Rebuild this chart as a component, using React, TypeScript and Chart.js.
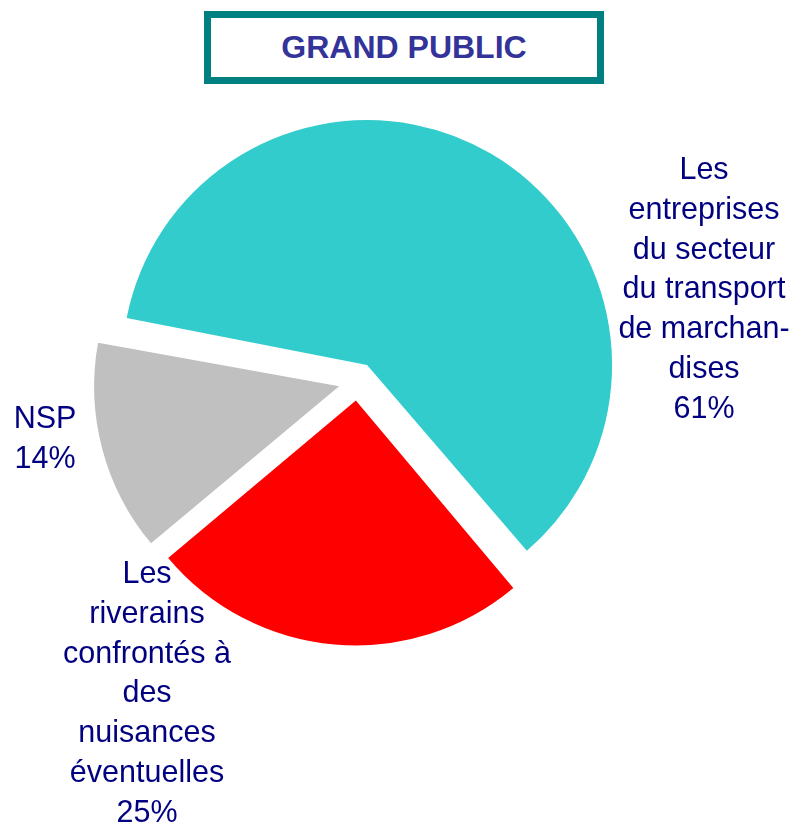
import React, { useEffect, useRef } from "react";
import { Chart, registerables } from "chart.js";

Chart.register(...registerables);

const categories = [
  "Les entreprises du secteur du transport de marchandises",
  "Les riverains confrontés à des nuisances éventuelles",
  "NSP",
];
const values = [61, 25, 14];
const colors = ["#33CCCC", "#FF0000", "#C0C0C0"];
const labelLines = [
  ["Les", "entreprises", "du secteur", "du transport", "de marchan-", "dises", "61%"],
  ["Les", "riverains", "confrontés à", "des", "nuisances", "éventuelles", "25%"],
  ["NSP", "14%"],
];
const title = "GRAND PUBLIC";

const RADIUS = 245;
const OFFSET = 76;
const labelPos = [
  { x: 704, y: 179 },
  { x: 147, y: 583 },
  { x: 45, y: 428 },
];

const fixRadiusPlugin = {
  id: "fixRadius",
  afterDatasetsUpdate(chart: any) {
    const meta = chart.getDatasetMeta(0);
    meta.data.forEach((arc: any) => {
      const c = arc.circumference;
      const fix = 1 - Math.sin(Math.min(Math.PI, c || 0));
      arc.outerRadius = RADIUS - (OFFSET / 4) * fix;
    });
  },
};

const labelsPlugin = {
  id: "sliceLabels",
  afterDatasetsDraw(chart: any) {
    const ctx = chart.ctx;
    ctx.save();
    ctx.fillStyle = "#000080";
    ctx.font = "30.5px 'Liberation Sans', Arial, sans-serif";
    ctx.textAlign = "center";
    ctx.textBaseline = "alphabetic";
    labelLines.forEach((lines, i) => {
      const p = labelPos[i];
      lines.forEach((t, j) => ctx.fillText(t, p.x, p.y + j * 39.8));
    });
    ctx.restore();
  },
};

export default function App() {
  const ref = useRef<HTMLCanvasElement | null>(null);
  useEffect(() => {
    if (!ref.current) return;
    const chart = new Chart(ref.current, {
      type: "pie",
      data: {
        labels: categories,
        datasets: [
          {
            data: values,
            backgroundColor: colors,
            borderWidth: 0,
            offset: OFFSET,
            hoverOffset: 0,
          },
        ],
      },
      options: {
        responsive: false,
        animation: false,
        events: [],
        rotation: 280.4,
        radius: RADIUS,
        layout: { padding: { left: 0, right: 81, top: 0, bottom: 62 } },
        plugins: {
          legend: { display: false },
          tooltip: { enabled: false },
          title: { display: false },
        },
      },
      plugins: [fixRadiusPlugin, labelsPlugin],
    });
    return () => chart.destroy();
  }, []);
  return (
    <div style={{ position: "absolute", left: 0, top: 0, width: 796, height: 825, background: "#fff" }}>
      <canvas ref={ref} width={796} height={825} style={{ position: "absolute", left: 0, top: 0 }} />
      <div
        style={{
          position: "absolute",
          left: 204,
          top: 11,
          width: 400,
          height: 73,
          boxSizing: "border-box",
          border: "7px solid #008080",
          display: "flex",
          alignItems: "center",
          justifyContent: "center",
          fontFamily: "'Liberation Sans', Arial, sans-serif",
          fontWeight: "bold",
          fontSize: 32,
          color: "#333399",
          background: "#fff",
        }}
      >
        {title}
      </div>
    </div>
  );
}
